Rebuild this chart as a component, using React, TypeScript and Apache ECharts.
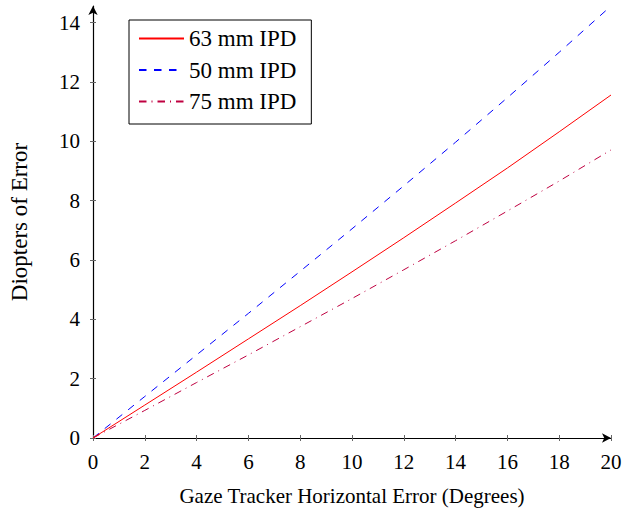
import React, { useEffect, useRef } from "react";
import * as echarts from "echarts";

const gazeError = [0, 2, 4, 6, 8, 10, 12, 14, 16, 18, 20];
const ipd63 = [0, 1.11, 2.22, 3.34, 4.46, 5.6, 6.75, 7.92, 9.1, 10.32, 11.56];
const ipd50 = [0, 1.4, 2.8, 4.2, 5.62, 7.05, 8.5, 9.97, 11.47, 13.0, 14.56];
const ipd75 = [0, 0.93, 1.87, 2.8, 3.75, 4.7, 5.67, 6.65, 7.65, 8.66, 9.71];
const xTicks = [0, 2, 4, 6, 8, 10, 12, 14, 16, 18, 20];
const yTicks = [0, 2, 4, 6, 8, 10, 12, 14];
const seriesNames = ["63 mm IPD", "50 mm IPD", "75 mm IPD"];

const FONT = "Liberation Serif";

export default function App() {
  const ref = useRef<HTMLDivElement>(null);
  useEffect(() => {
    if (!ref.current) return;
    const chart = echarts.init(ref.current, undefined, { renderer: "svg" });
    const pair = (ys: number[]) => gazeError.map((x, i) => [x, ys[i]]);
    const tickStyle = { color: "#666", width: 1 };
    chart.setOption({
      animation: false,
      grid: { left: 91, right: 30, top: 6, bottom: 74, containLabel: false },
      legend: {
        orient: "vertical",
        left: 129,
        top: 20,
        data: seriesNames,
        itemWidth: 45,
        itemHeight: 14,
        itemGap: 8.5,
        padding: [7, 15, 11, 9],
        borderColor: "#000",
        borderWidth: 1,
        backgroundColor: "#fff",
        itemStyle: { opacity: 0 },
        textStyle: { fontFamily: FONT, fontSize: 23, color: "#000", lineHeight: 20 },
      },
      xAxis: [
        {
          type: "value",
          min: 0,
          max: 20,
          interval: 2,
          position: "bottom",
          name: "Gaze Tracker Horizontal Error (Degrees)",
          nameLocation: "middle",
          nameGap: 47,
          nameTextStyle: { fontFamily: FONT, fontSize: 21, color: "#000" },
          axisLine: {
            show: true,
            onZero: false,
            lineStyle: { color: "#000", width: 1.2 },
            symbol: ["none", "arrow"],
            symbolSize: [7, 9],
          },
          axisTick: { show: true, length: 3, lineStyle: tickStyle, customValues: xTicks },
          axisLabel: {
            fontFamily: FONT,
            fontSize: 21,
            color: "#000",
            margin: 13,
            customValues: xTicks,
          },
          splitLine: { show: false },
        },
        {
          type: "value",
          min: 0,
          max: 20,
          interval: 2,
          position: "bottom",
          axisLine: { show: false, onZero: false },
          axisTick: { show: true, inside: true, length: 3, lineStyle: tickStyle, customValues: xTicks },
          axisLabel: { show: false },
          splitLine: { show: false },
        },
      ],
      yAxis: [
        {
          type: "value",
          min: 0,
          max: 14.56,
          interval: 2,
          position: "left",
          name: "Diopters of Error",
          nameLocation: "middle",
          nameGap: 62,
          nameTextStyle: { fontFamily: FONT, fontSize: 23, color: "#000" },
          axisLine: {
            show: true,
            onZero: false,
            lineStyle: { color: "#000", width: 1.2 },
            symbol: ["none", "arrow"],
            symbolSize: [7, 9],
          },
          axisTick: { show: true, length: 3, lineStyle: tickStyle, customValues: yTicks },
          axisLabel: {
            fontFamily: FONT,
            fontSize: 21,
            color: "#000",
            margin: 13,
            customValues: yTicks,
          },
          splitLine: { show: false },
        },
        {
          type: "value",
          min: 0,
          max: 14.56,
          interval: 2,
          position: "left",
          axisLine: { show: false, onZero: false },
          axisTick: { show: true, inside: true, length: 3, lineStyle: tickStyle, customValues: yTicks },
          axisLabel: { show: false },
          splitLine: { show: false },
        },
      ],
      series: [
        {
          name: seriesNames[0],
          type: "line",
          data: pair(ipd63),
          showSymbol: false,
          symbol: "none",
          smooth: false,
          itemStyle: { color: "#ff0000" },
          lineStyle: { color: "#ff0000", width: 1 },
          z: 3,
        },
        {
          name: seriesNames[1],
          type: "line",
          data: pair(ipd50),
          showSymbol: false,
          symbol: "none",
          smooth: false,
          itemStyle: { color: "#0000ff" },
          lineStyle: { color: "#0000ff", width: 1, type: [7.5, 7.5] },
          z: 2,
        },
        {
          name: seriesNames[2],
          type: "line",
          data: pair(ipd75),
          showSymbol: false,
          symbol: "none",
          smooth: false,
          itemStyle: { color: "#bf0040" },
          lineStyle: { color: "#bf0040", width: 1, type: [7.5, 5, 1, 5] },
          z: 2,
        },
      ],
    });
    return () => chart.dispose();
  }, []);
  return (
    <div
      ref={ref}
      style={{ position: "fixed", left: 0, top: 0, width: 641, height: 512, background: "#fff" }}
    />
  );
}
